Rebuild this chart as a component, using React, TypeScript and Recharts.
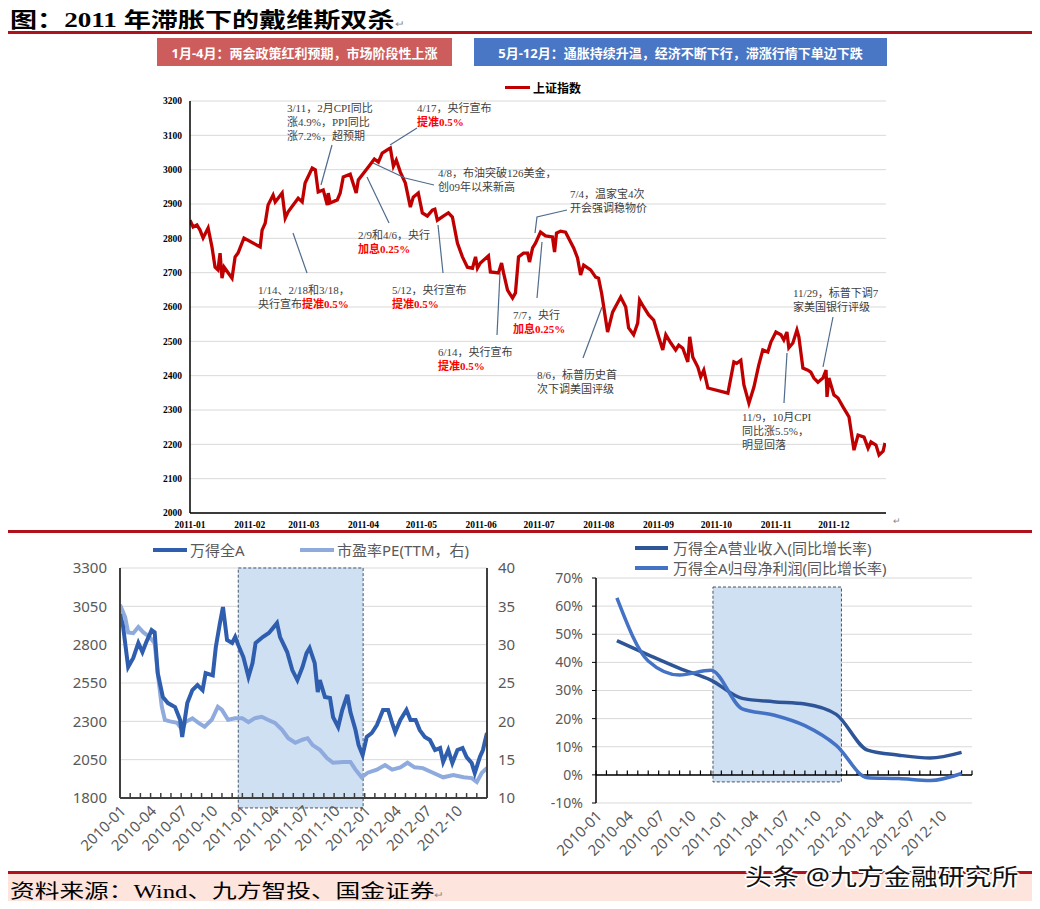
import React from 'react';
import {
  LineChart,
  Line,
  XAxis,
  YAxis,
  CartesianGrid,
  ReferenceArea,
  ReferenceLine,
} from 'recharts';

const SERIF = '"Liberation Serif", "Noto Sans CJK SC", serif';
const SANS = '"Noto Sans", "Noto Sans CJK SC", sans-serif';
const CJK = '"Liberation Serif", "Noto Sans CJK SC", serif';

// 上证指数 2011 — days since 2011-01-01 and close
const shDays = [
  0, 1.6, 3.6, 5.2, 6.8, 9.4, 11.4, 13, 14.5, 15.6, 16.6, 17.7, 21.8, 23.4, 24.9, 28,
  36.4, 37.4, 39, 40.5, 43.1, 44.2, 47.8, 49.4, 50.9, 56.1, 58.2, 59.7, 63.4, 65, 66.5, 69.1, 71.2, 71.7, 72.7, 76.4, 77.9, 79.5, 83.1, 86.2, 87.3,
  92.5, 95.6, 97.7, 99.7, 102.9, 103.9, 105.5, 107, 109.1, 111.7, 114.3, 115.8, 118.4, 120.5, 123.1, 125.7, 127, 128.3, 131.4, 134, 136.1, 138.7, 141.3, 143.9, 146.5, 148.1, 149.1, 150.6,
  154.8, 155.8, 160, 161.6, 162.6, 164.7, 167.3, 168.8, 170.4, 173, 175.1, 176.1, 177.7, 179.2, 181.8, 184.4, 188, 189.1, 190.1, 192.2, 194.8, 197.4, 199, 201, 202.6, 204.2, 207.8, 210.4, 211.9,
  213.5, 216.6, 219.2, 223.4, 226, 227.5, 230.1, 232.2, 233.2, 235.3, 237.9, 240.5, 243.1, 245.2, 246.8, 249.4, 251.9, 253.5, 255.6, 258.2, 259.2, 260.8, 263.4, 264.9, 266.5, 268.6,
  279, 282.1, 283.6, 285.7, 287.3, 289.9, 292.5, 295, 297.1, 299.7, 301.3, 303.9, 306.5, 308, 309.6, 310.6, 312.7, 314.8, 315.8, 317.9, 320.5, 322, 323.6, 325.7, 328.3, 329.9, 330.4, 331.4,
  334, 336.1, 338.7, 341.8, 344.4, 346.5, 349.6, 351.7, 353.2, 355.8, 357.4, 359.5, 360.5,
];
const shClose = [
  2853, 2833, 2839, 2824, 2801, 2830, 2775, 2716, 2708, 2757, 2684, 2716, 2684, 2746, 2757, 2801,
  2775, 2824, 2844, 2897, 2926, 2906, 2932, 2859, 2877, 2917, 2906, 2961, 3005, 3000, 2935, 2941, 2897, 2932, 2903, 2912, 2932, 2979, 2987, 2932, 2970,
  3008, 3031, 3022, 3048, 3060, 3063, 3010, 3028, 2993, 2961, 2891, 2920, 2932, 2874, 2865, 2882, 2885, 2853, 2865, 2874, 2862, 2786, 2746, 2716, 2713, 2746, 2713, 2728,
  2749, 2702, 2699, 2728, 2700, 2649, 2626, 2641, 2746, 2757, 2757, 2731, 2772, 2786, 2818, 2807, 2804, 2760, 2815, 2821, 2818, 2789, 2772, 2743, 2693, 2722, 2708, 2687, 2684,
  2640, 2527, 2585, 2629, 2600, 2539, 2519, 2553, 2620, 2600, 2577, 2562, 2513, 2475, 2519, 2495, 2475, 2489, 2480, 2440, 2513, 2454, 2425, 2396, 2416, 2364,
  2349, 2440, 2436, 2445, 2373, 2320, 2367, 2431, 2475, 2469, 2498, 2527, 2519, 2504, 2527, 2481, 2495, 2533, 2513, 2422, 2416, 2410, 2393, 2381, 2393, 2416, 2338, 2393,
  2344, 2335, 2309, 2280, 2183, 2227, 2221, 2189, 2207, 2198, 2169, 2180, 2204,
];
const shMonthStarts = [0, 31, 59, 90, 120, 151, 181, 212, 243, 273, 304, 334];
const shMonthLabels = ['2011-01', '2011-02', '2011-03', '2011-04', '2011-05', '2011-06', '2011-07', '2011-08', '2011-09', '2011-10', '2011-11', '2011-12'];
const shTicks = [2000, 2100, 2200, 2300, 2400, 2500, 2600, 2700, 2800, 2900, 3000, 3100, 3200];

// 万得全A & PE(TTM) — months since 2010-01
const windT = [
  0, 0.3, 0.8, 1.3, 1.8, 2.2, 2.6, 3.1, 3.4, 3.7,
  4.2, 4.7, 5.4, 5.9, 6.1, 6.6, 7.1, 7.6, 8.1, 8.4,
  9.1, 9.4, 9.8, 10.1, 10.5, 11.0, 11.3, 11.6, 12.1, 12.6,
  13.0, 13.3, 14.0, 14.6, 15.0, 15.4, 15.7, 16.4, 16.9, 17.4,
  17.9, 18.3, 18.6, 19.1, 19.4, 19.6, 20.1, 20.6, 20.9, 21.4,
  21.8, 22.3, 22.6, 23.1, 23.4, 23.8, 24.2, 24.7, 25.2, 25.8,
  26.3, 26.7, 27.0, 27.5, 28.1, 28.5, 29.0, 29.4, 29.9, 30.4,
  30.9, 31.4, 31.7, 32.2, 32.6, 33.1, 33.6, 34.0, 34.5, 34.8,
  35.3, 35.6, 35.9, 36.0,
];
const windA = [
  3000, 2920, 2654, 2713, 2811, 2752, 2820, 2895, 2880, 2615,
  2459, 2419, 2393, 2309, 2198, 2419, 2504, 2537, 2504, 2615,
  2600, 2785, 2941, 3045, 2830, 2811, 2850, 2798, 2719, 2589,
  2680, 2811, 2850, 2876, 2908, 2941, 2850, 2752, 2634, 2569,
  2654, 2745, 2778, 2680, 2491, 2569, 2459, 2452, 2328, 2263,
  2374, 2472, 2361, 2243, 2146, 2080, 2198, 2224, 2276, 2374,
  2374, 2289, 2230, 2309, 2374, 2309, 2309, 2243, 2198, 2178,
  2113, 2126, 2035, 2113, 2028, 2113, 2126, 2067, 2028, 1963,
  2067, 2113, 2198, 2224,
];
const peT = [
  0, 0.5, 0.8, 1.3, 1.8, 2.3, 2.9, 3.4, 3.7, 4.1,
  4.4, 4.9, 5.6, 6.1, 6.4, 7.1, 7.7, 8.3, 9.0, 9.6,
  10.0, 10.6, 11.3, 12.0, 12.6, 13.2, 13.9, 14.5, 15.2, 15.9,
  16.5, 17.2, 17.9, 18.4, 18.9, 19.6, 20.3, 20.9, 21.9, 22.6,
  23.1, 23.7, 24.3, 25.2, 26.0, 26.7, 27.5, 28.2, 28.9, 29.7,
  30.7, 31.7, 32.7, 33.7, 34.5, 35.0, 35.5, 36.0,
];
const peTTM = [
  35.2, 33.6, 31.6, 31.5, 32.3, 31.6, 31.0, 30.2, 26.3, 21.9,
  20.2, 20.0, 19.8, 18.9, 19.9, 20.4, 19.8, 19.3, 20.2, 21.9,
  21.5, 20.2, 20.4, 20.4, 19.9, 20.4, 20.6, 20.2, 19.8, 18.9,
  17.8, 17.2, 17.6, 17.8, 16.9, 16.3, 15.2, 14.6, 14.7, 14.7,
  13.7, 12.7, 13.3, 13.7, 14.3, 13.7, 14.0, 14.6, 14.0, 13.9,
  13.3, 12.7, 13.0, 12.7, 12.6, 12.1, 13.3, 13.9,
];
const quarterLabels = ['2010-01', '2010-04', '2010-07', '2010-10', '2011-01', '2011-04', '2011-07', '2011-10', '2012-01', '2012-04', '2012-07', '2012-10'];
const monthTicks = Array.from({ length: 37 }, (_, i) => i);
const windTicks = [1800, 2050, 2300, 2550, 2800, 3050, 3300];
const peTicks = [10, 15, 20, 25, 30, 35, 40];

// 营业收入 / 归母净利润 同比 (quarterly)
const reportT = [2, 5, 8, 11, 14, 17, 20, 23, 26, 29, 32, 35];
const revenueYoy = [47.7, 42.7, 37.9, 33.7, 27.2, 26.0, 25.2, 21.5, 8.8, 7.0, 6.0, 8.0];
const profitYoy = [62.9, 40.5, 35.5, 37.2, 23.5, 21.3, 17.5, 10.5, -1.0, -1.3, -2.0, 0.5];
const growthTicks = [-10, 0, 10, 20, 30, 40, 50, 60, 70];

const shData = shDays.map((d, i) => ({ day: d, close: shClose[i] }));
const windData = windT.map((t, i) => ({ t, v: windA[i] }));
const peData = peT.map((t, i) => ({ t, v: peTTM[i] }));
const growthData = reportT.map((t, i) => ({ t, rev: revenueYoy[i], prof: profitYoy[i] }));

type Seg = [string, boolean?];
const notes: { x: number; y: number; lines: Seg[][] }[] = [
  { x: 287, y: 101, lines: [[['3/11，2月CPI同比']], [['涨4.9%，PPI同比']], [['涨7.2%，超预期']]] },
  { x: 417, y: 101, lines: [[['4/17，央行宣布']], [['提准0.5%', true]]] },
  { x: 438, y: 166, lines: [[['4/8，布油突破126美金，']], [['创09年以来新高']]] },
  { x: 358, y: 228, lines: [[['2/9和4/6，央行']], [['加息0.25%', true]]] },
  { x: 258, y: 283, lines: [[['1/14、2/18和3/18，']], [['央行宣布'], ['提准0.5%', true]]] },
  { x: 392, y: 283, lines: [[['5/12，央行宣布']], [['提准0.5%', true]]] },
  { x: 570, y: 187, lines: [[['7/4，温家宝4次']], [['开会强调稳物价']]] },
  { x: 513, y: 308, lines: [[['7/7，央行']], [['加息0.25%', true]]] },
  { x: 438, y: 345, lines: [[['6/14，央行宣布']], [['提准0.5%', true]]] },
  { x: 537, y: 368, lines: [[['8/6，标普历史首']], [['次下调美国评级']]] },
  { x: 742, y: 410, lines: [[['11/9，10月CPI']], [['同比涨5.5%，']], [['明显回落']]] },
  { x: 793, y: 286, lines: [[['11/29，标普下调7']], [['家美国银行评级']]] },
];
const leaders = [
  '332,145 321,185',
  '417,128 390,145',
  '373,163 405,178 434,185',
  '367,177 389,223',
  '293,233 307,273',
  '438,225 443,273',
  '567,210 537,217 535,233',
  '542,242 537,298',
  '500,273 497,335',
  '602,307 583,358',
  '787,353 784,403',
  '833,317 823,367',
];

function RotTick(props: any) {
  const { x, y, payload, marks } = props;
  const m = payload.value as number;
  const label = m % 3 === 0 ? quarterLabels[m / 3] : undefined;
  return (
    <g>
      {marks && <line x1={x} x2={x} y1={y} y2={y - 5} stroke="#404040" strokeWidth={1.5} />}
      {label && (
        <text
          transform={`translate(${x + 4},${y + 11}) rotate(-45)`}
          textAnchor="end"
          dominantBaseline="middle"
          fontSize={15}
          fontFamily={SANS}
          fill="#595959"
        >
          {label}
        </text>
      )}
    </g>
  );
}

function Rule({ top }: { top: number }) {
  return <div style={{ position: 'absolute', left: 5, width: 1030, top, height: 3, background: '#b0121b' }} />;
}

export default function App() {
  return (
    <div style={{ position: 'relative', width: 1040, height: 909, margin: -8, background: '#fff', overflow: 'hidden' }}>
      <div style={{ position: 'absolute', left: 10, top: 3, fontSize: 21, fontWeight: 700, fontFamily: CJK, color: '#000', transform: 'scaleX(1.29)', transformOrigin: 'left', whiteSpace: 'nowrap' }}>
        图：2011 年滞胀下的戴维斯双杀<span style={{ fontSize: 9, color: '#888', fontWeight: 400 }}>↵</span>
      </div>
      <Rule top={31} />

      <div style={{ position: 'absolute', left: 157, top: 38, width: 295, height: 28, background: '#cd5c5c', color: '#fff', fontSize: 13, fontWeight: 700, fontFamily: SANS, display: 'flex', alignItems: 'center', justifyContent: 'center' }}>
        1月-4月：两会政策红利预期，市场阶段性上涨
      </div>
      <div style={{ position: 'absolute', left: 474, top: 38, width: 413, height: 28, background: '#4a76c6', color: '#fff', fontSize: 13, fontWeight: 700, fontFamily: SANS, display: 'flex', alignItems: 'center', justifyContent: 'center' }}>
        5月-12月：通胀持续升温，经济不断下行，滞涨行情下单边下跌
      </div>

      <div style={{ position: 'absolute', left: 505, top: 86, width: 25, height: 3, background: '#c00000' }} />
      <div style={{ position: 'absolute', left: 533, top: 79, fontSize: 12, fontWeight: 700, fontFamily: SANS, color: '#000' }}>上证指数</div>

      <div style={{ position: 'absolute', left: 140, top: 90 }}>
        <LineChart width={760} height={445} data={shData} margin={{ top: 11, right: 14, bottom: 2, left: 0 }}>
          <CartesianGrid vertical={false} stroke="#d9d9d9" />
          <XAxis
            type="number"
            dataKey="day"
            domain={[0, 361]}
            ticks={shMonthStarts}
            interval={0}
            tickFormatter={(v: number) => shMonthLabels[shMonthStarts.indexOf(v)]}
            tickLine={false}
            axisLine={{ stroke: '#000', strokeWidth: 1.5 }}
            tick={{ fontSize: 9.5, fontWeight: 700, fill: '#000', fontFamily: SERIF }}
            height={20}
            allowDataOverflow
          />
          <YAxis
            domain={[2000, 3200]}
            ticks={shTicks}
            interval={0}
            width={50}
            tickLine={false}
            axisLine={{ stroke: '#000', strokeWidth: 1.5 }}
            tick={{ fontSize: 9.5, fontWeight: 700, fill: '#000', fontFamily: SERIF }}
            allowDataOverflow
          />
          <Line type="linear" dataKey="close" stroke="#c00000" strokeWidth={3.3} dot={false} isAnimationActive={false} />
        </LineChart>
      </div>

      {notes.map((n, i) => (
        <div key={i} style={{ position: 'absolute', left: n.x, top: n.y, fontSize: 11, lineHeight: '14px', fontFamily: CJK, color: '#404040', whiteSpace: 'nowrap' }}>
          {n.lines.map((ln, j) => (
            <div key={j}>
              {ln.map(([t, red], k) => (
                <span key={k} style={red ? { color: '#ff0000', fontWeight: 700 } : undefined}>{t}</span>
              ))}
            </div>
          ))}
        </div>
      ))}
      <svg width={1040} height={909} style={{ position: 'absolute', left: 0, top: 0, pointerEvents: 'none' }}>
        {leaders.map((p, i) => (
          <polyline key={i} points={p} fill="none" stroke="#4f6b8c" strokeWidth={1.2} />
        ))}
      </svg>
      <div style={{ position: 'absolute', left: 893, top: 516, fontSize: 9, color: '#888' }}>↵</div>

      <Rule top={530} />

      {/* bottom-left legend */}
      <div style={{ position: 'absolute', left: 153, top: 548, width: 34, height: 4, background: '#2f5eae' }} />
      <div style={{ position: 'absolute', left: 190, top: 539, fontSize: 15, fontFamily: SANS, color: '#595959' }}>万得全A</div>
      <div style={{ position: 'absolute', left: 300, top: 548, width: 34, height: 4, background: '#8faadc' }} />
      <div style={{ position: 'absolute', left: 337, top: 539, fontSize: 15, fontFamily: SANS, color: '#595959' }}>市盈率PE(TTM，右)</div>

      <div style={{ position: 'absolute', left: 50, top: 558 }}>
        <LineChart width={487} height={300} margin={{ top: 10, right: 0, bottom: 5, left: 0 }}>
          <CartesianGrid vertical={false} stroke="#d9d9d9" />
          <ReferenceArea
            x1={11.6}
            x2={23.85}
            y1={1735}
            y2={3300}
            ifOverflow="visible"
            fill="#cfe0f3"
            fillOpacity={1}
            stroke="#44546a"
            strokeDasharray="3 2"
          />
          <XAxis
            type="number"
            dataKey="t"
            domain={[0, 36]}
            ticks={monthTicks}
            interval={0}
            tickSize={0}
            tickMargin={0}
            tick={<RotTick marks />}
            axisLine={{ stroke: '#404040', strokeWidth: 2 }}
            height={55}
            allowDataOverflow
          />
          <YAxis
            domain={[1800, 3300]}
            ticks={windTicks}
            interval={0}
            width={70}
            tickLine={false}
            tickMargin={7}
            axisLine={{ stroke: '#404040', strokeWidth: 2 }}
            tick={{ fontSize: 15, fill: '#595959', fontFamily: SANS }}
            allowDataOverflow
          />
          <YAxis
            yAxisId="r"
            orientation="right"
            domain={[10, 40]}
            ticks={peTicks}
            interval={0}
            width={50}
            tickLine={false}
            tickMargin={5}
            axisLine={{ stroke: '#404040', strokeWidth: 2 }}
            tick={{ fontSize: 15, fill: '#595959', fontFamily: SANS }}
            allowDataOverflow
          />
          <Line yAxisId="r" data={peData} dataKey="v" type="linear" stroke="#8faadc" strokeWidth={4} dot={false} isAnimationActive={false} />
          <Line data={windData} dataKey="v" type="linear" stroke="#2f5eae" strokeWidth={4} dot={false} isAnimationActive={false} />
        </LineChart>
      </div>

      {/* bottom-right legend */}
      <div style={{ position: 'absolute', left: 635, top: 546, width: 33, height: 4, background: '#2e5597' }} />
      <div style={{ position: 'absolute', left: 673, top: 537, fontSize: 15, fontFamily: SANS, color: '#595959' }}>万得全A营业收入(同比增长率)</div>
      <div style={{ position: 'absolute', left: 635, top: 566, width: 33, height: 4, background: '#4472c4' }} />
      <div style={{ position: 'absolute', left: 673, top: 557, fontSize: 15, fontFamily: SANS, color: '#595959' }}>万得全A归母净利润(同比增长率)</div>

      <div style={{ position: 'absolute', left: 536, top: 568 }}>
        <LineChart width={446} height={295} data={growthData} margin={{ top: 10, right: 10, bottom: 5, left: 0 }}>
          <CartesianGrid vertical={false} stroke="#d9d9d9" />
          <ReferenceArea
            x1={11.2}
            x2={23.5}
            y1={-2.5}
            y2={66.8}
            ifOverflow="visible"
            fill="#cfe0f3"
            fillOpacity={1}
            stroke="#44546a"
            strokeDasharray="3 2"
          />
          <ReferenceLine y={0} stroke="#000" strokeWidth={1.5} />
          {monthTicks.map((m) => (
            <ReferenceLine key={m} segment={[{ x: m, y: 0 }, { x: m, y: 1.6 }]} stroke="#000" strokeWidth={1.2} />
          ))}
          <XAxis
            type="number"
            dataKey="t"
            domain={[0, 36]}
            ticks={monthTicks}
            interval={0}
            tickSize={0}
            tickMargin={0}
            tick={<RotTick />}
            axisLine={false}
            height={55}
            allowDataOverflow
          />
          <YAxis
            domain={[-10, 70]}
            ticks={growthTicks}
            interval={0}
            width={60}
            tickSize={4}
            tickMargin={9}
            tickFormatter={(v: number) => `${v}%`}
            tickLine={{ stroke: '#000' }}
            axisLine={{ stroke: '#000', strokeWidth: 1.5 }}
            tick={{ fontSize: 14, fill: '#595959', fontFamily: SANS }}
            allowDataOverflow
          />
          <Line dataKey="rev" type="monotone" stroke="#2e5597" strokeWidth={3.5} dot={false} isAnimationActive={false} />
          <Line dataKey="prof" type="monotone" stroke="#4472c4" strokeWidth={3.5} dot={false} isAnimationActive={false} />
        </LineChart>
      </div>

      {/* footer */}
      <Rule top={871} />
      <div style={{ position: 'absolute', left: 5, width: 1030, top: 874, height: 30, background: '#fde4dc' }} />
      <div style={{ position: 'absolute', left: 10, top: 876, fontSize: 19, fontFamily: CJK, color: '#000', transform: 'scaleX(1.3)', transformOrigin: 'left', whiteSpace: 'nowrap' }}>
        资料来源：Wind、九方智投、国金证券<span style={{ fontSize: 9, color: '#888' }}>↵</span>
      </div>
      <Rule top={904} />
      <div
        style={{
          position: 'absolute',
          left: 745,
          top: 858,
          fontSize: 23,
          fontFamily: SANS,
          color: '#111',
          whiteSpace: 'nowrap',
          transform: 'scaleX(1.17)',
          transformOrigin: 'left',
          textShadow: '1px 1px 0 #fff, -1px -1px 0 #fff, 1px -1px 0 #fff, -1px 1px 0 #fff, 0 2px 0 #fff, 2px 0 0 #fff, -2px 0 0 #fff, 0 -2px 0 #fff',
        }}
      >
        头条 @九方金融研究所
      </div>
    </div>
  );
}
